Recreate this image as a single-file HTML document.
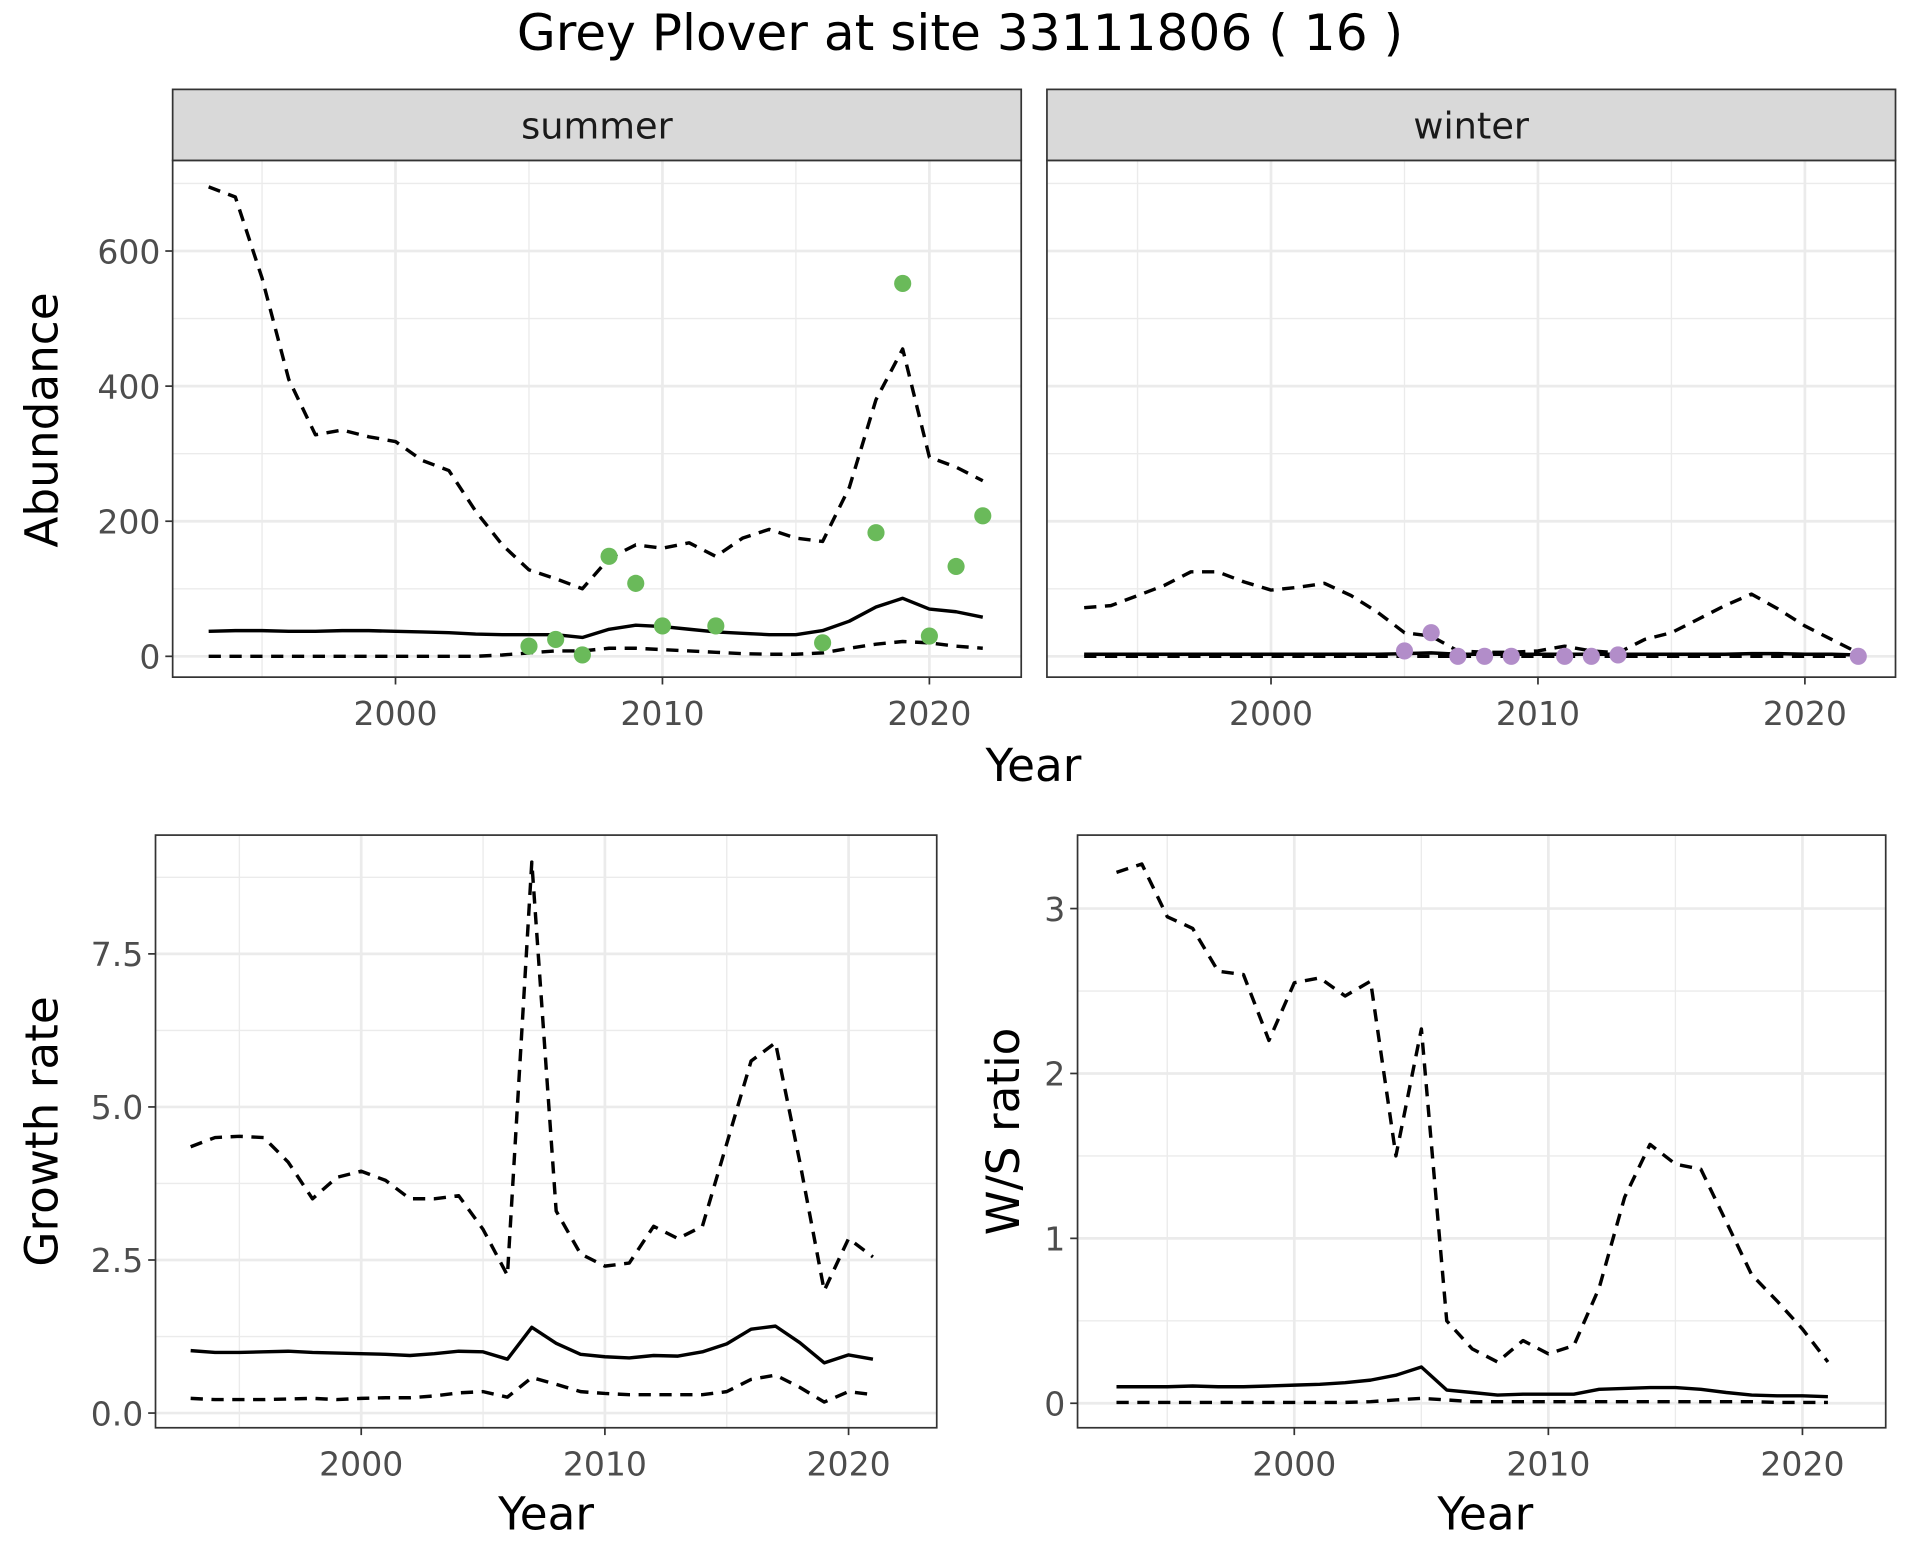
<!DOCTYPE html>
<html><head><meta charset="utf-8"><style>
html,body{margin:0;padding:0;background:#fff;}
svg{display:block;font-family:"DejaVu Sans","Liberation Sans",sans-serif;}
</style></head><body>
<svg id="chart" width="1920" height="1560" viewBox="0 0 1568 1274" preserveAspectRatio="none" xmlns="http://www.w3.org/2000/svg">
<text x="784" y="41" text-anchor="middle" font-size="41" fill="#000">Grey Plover at site 33111806 ( 16 )</text>
</svg>
<script>
const yearsAb = [1993,1994,1995,1996,1997,1998,1999,2000,2001,2002,2003,2004,2005,2006,2007,2008,2009,2010,2011,2012,2013,2014,2015,2016,2017,2018,2019,2020,2021,2022];
const sumUpper = [695,680,560,410,328,335,325,318,290,275,215,165,128,115,100,145,165,160,168,148,175,188,175,170,250,380,455,295,280,260];
const sumMean = [37,38,38,37,37,38,38,37,36,35,33,32,32,32,28,40,46,44,40,36,34,32,32,38,52,73,86,70,66,58];
const sumLower = [0,0,0,0,0,0,0,0,0,0,0,2,5,8,8,12,12,10,8,6,4,3,3,5,12,18,22,20,15,12];
const sumPtYears = [2005,2006,2007,2008,2009,2010,2012,2016,2018,2019,2020,2021,2022];
const sumPtVals = [15,25,2,148,108,45,45,20,183,552,30,133,208];
const winUpper = [72,75,90,105,125,125,110,98,102,108,90,65,35,30,8,6,6,8,15,8,5,25,35,55,75,92,70,45,25,5];
const winMean = [3,3,3,3,3,3,3,3,3,3,3,3,4,5,3,3,3,3,3,3,3,3,3,3,3,4,4,3,3,2];
const winLower = [0,0,0,0,0,0,0,0,0,0,0,0,0,0,0,0,0,0,0,0,0,0,0,0,0,0,0,0,0,0];
const winPtYears = [2005,2006,2007,2008,2009,2011,2012,2013,2022];
const winPtVals = [8,35,0,0,0,0,0,2,0];
const yearsGr = [1993,1994,1995,1996,1997,1998,1999,2000,2001,2002,2003,2004,2005,2006,2007,2008,2009,2010,2011,2012,2013,2014,2015,2016,2017,2018,2019,2020,2021];
const grUpper = [4.35,4.5,4.52,4.5,4.1,3.5,3.85,3.95,3.8,3.5,3.5,3.55,3.0,2.25,9.0,3.3,2.6,2.4,2.45,3.05,2.85,3.05,4.4,5.75,6.05,4.1,2.0,2.85,2.55];
const grMean = [1.02,0.99,0.99,1.0,1.01,0.99,0.98,0.97,0.96,0.94,0.97,1.01,1.0,0.88,1.4,1.14,0.96,0.92,0.9,0.94,0.93,1.0,1.13,1.37,1.42,1.15,0.82,0.95,0.88];
const grLower = [0.24,0.22,0.22,0.22,0.23,0.24,0.22,0.24,0.25,0.25,0.28,0.33,0.35,0.26,0.58,0.47,0.35,0.32,0.3,0.3,0.3,0.3,0.35,0.55,0.62,0.42,0.18,0.35,0.3];
const wsUpper = [3.22,3.27,2.95,2.88,2.62,2.6,2.2,2.55,2.58,2.47,2.56,1.5,2.27,0.5,0.33,0.25,0.38,0.3,0.35,0.7,1.25,1.57,1.45,1.42,1.1,0.78,0.62,0.45,0.25];
const wsMean = [0.1,0.1,0.1,0.105,0.1,0.1,0.105,0.11,0.115,0.125,0.14,0.17,0.22,0.08,0.065,0.05,0.055,0.055,0.055,0.085,0.09,0.095,0.095,0.085,0.065,0.05,0.045,0.045,0.04];
const wsLower = [0.005,0.005,0.005,0.005,0.005,0.005,0.005,0.005,0.005,0.005,0.01,0.02,0.03,0.02,0.01,0.01,0.01,0.01,0.01,0.01,0.01,0.01,0.01,0.01,0.01,0.01,0.005,0.005,0.005];
const xTicks = [2000,2010,2020];
const xMinor = [1995,2005,2015];
const abTicks = [0,200,400,600];
const abMinor = [100,300,500,700];
const grTicks = [0,2.5,5,7.5];
const grTickLabels = ["0.0","2.5","5.0","7.5"];
const grMinor = [1.25,3.75,6.25,8.75];
const wsTicks = [0,1,2,3];
const wsMinor = [0.5,1.5,2.5];

const svg = document.getElementById('chart');
const NS = 'http://www.w3.org/2000/svg';
function mk(tag, attrs, parent){const e=document.createElementNS(NS,tag);for(const k in attrs)e.setAttribute(k,attrs[k]);(parent||svg).appendChild(e);return e;}
function lin(d0,d1,r0,r1){return v=>r0+(v-d0)*(r1-r0)/(d1-d0);}

function panel(o){
  const g = mk('g',{});
  
  
  const X = lin(2000,2020,o.x2000,o.x2020), Y = lin(o.v0,o.v1,o.y0,o.y1);
  mk('rect',{x:o.l,y:o.t,width:o.r-o.l,height:o.b-o.t,fill:'#fff'},g);
  o.yMinor.forEach(v=>{const yy=Y(v); if(yy>o.t&&yy<o.b) mk('line',{x1:o.l,x2:o.r,y1:yy,y2:yy,stroke:'#ebebeb','stroke-width':1.1},g);});
  xMinor.forEach(v=>mk('line',{x1:X(v),x2:X(v),y1:o.t,y2:o.b,stroke:'#ebebeb','stroke-width':1.1},g));
  o.yTicks.forEach(v=>mk('line',{x1:o.l,x2:o.r,y1:Y(v),y2:Y(v),stroke:'#ebebeb','stroke-width':2.2},g));
  xTicks.forEach(v=>mk('line',{x1:X(v),x2:X(v),y1:o.t,y2:o.b,stroke:'#ebebeb','stroke-width':2.2},g));
  o.series.forEach(s=>{
    const pts=s.ys.map((v,i)=>X(s.xs[i]).toFixed(1)+','+Y(v).toFixed(1)).join(' ');
    const p=mk('polyline',{points:pts,fill:'none',stroke:'#000','stroke-width':2.8,'stroke-dasharray':s.dash?'10,7':'none','stroke-linejoin':'round'},g);
    
    
  });
  if(o.pts){o.pts.ys.forEach((v,i)=>{
    const c=mk('circle',{cx:X(o.pts.xs[i]),cy:Y(v),r:7,fill:o.pts.color},g);
    
    
  });}
  mk('rect',{x:o.l,y:o.t,width:o.r-o.l,height:o.b-o.t,fill:'none',stroke:'#333','stroke-width':1.4},g);
  xTicks.forEach(v=>{
    mk('line',{x1:X(v),x2:X(v),y1:o.b,y2:o.b+6,stroke:'#333','stroke-width':1.4},g);
    const t=mk('text',{x:X(v),y:o.b+39,'text-anchor':'middle','font-size':27,fill:'#4d4d4d'},g);t.textContent=v;
    
    
  });
  if(o.showY){o.yTicks.forEach((v,i)=>{
    mk('line',{x1:o.l-6,x2:o.l,y1:Y(v),y2:Y(v),stroke:'#333','stroke-width':1.4},g);
    const t=mk('text',{x:o.l-10,y:Y(v)+10,'text-anchor':'end','font-size':27,fill:'#4d4d4d'},g);t.textContent=o.yLabels?o.yLabels[i]:v;
    
    
  });}
  if(o.strip){
    mk('rect',{x:o.l,y:73,width:o.r-o.l,height:o.t-73,fill:'#d9d9d9',stroke:'#333','stroke-width':1.4},g);
    const t=mk('text',{x:(o.l+o.r)/2,y:113,'text-anchor':'middle','font-size':30,fill:'#1a1a1a'},g);t.textContent=o.strip;
    
    
  }
}
panel({name:'summer-panel',l:141,r:834,t:131,b:553,x2000:323,x2020:759,v0:0,v1:600,y0:536,y1:205,yTicks:abTicks,yMinor:abMinor,showY:true,strip:'summer',
  series:[{xs:yearsAb,ys:sumUpper,dash:true,name:'summer-upper-ci'},{xs:yearsAb,ys:sumMean,dash:false,name:'summer-mean'},{xs:yearsAb,ys:sumLower,dash:true,name:'summer-lower-ci'}],
  pts:{xs:sumPtYears,ys:sumPtVals,color:'#6aba5a'}});
panel({name:'winter-panel',l:855,r:1548,t:131,b:553,x2000:1038,x2020:1474,v0:0,v1:600,y0:536,y1:205,yTicks:abTicks,yMinor:abMinor,showY:false,strip:'winter',
  series:[{xs:yearsAb,ys:winUpper,dash:true,name:'winter-upper-ci'},{xs:yearsAb,ys:winMean,dash:false,name:'winter-mean'},{xs:yearsAb,ys:winLower,dash:true,name:'winter-lower-ci'}],
  pts:{xs:winPtYears,ys:winPtVals,color:'#b28dc9'}});
panel({name:'growth-rate-panel',l:127,r:765,t:682,b:1166,x2000:295,x2020:693,v0:0,v1:7.5,y0:1154,y1:779,yTicks:grTicks,yLabels:grTickLabels,yMinor:grMinor,showY:true,
  series:[{xs:yearsGr,ys:grUpper,dash:true,name:'growth-upper-ci'},{xs:yearsGr,ys:grMean,dash:false,name:'growth-mean'},{xs:yearsGr,ys:grLower,dash:true,name:'growth-lower-ci'}]});
panel({name:'ws-ratio-panel',l:880,r:1540,t:682,b:1166,x2000:1057,x2020:1472,v0:0,v1:3,y0:1146,y1:742,yTicks:wsTicks,yMinor:wsMinor,showY:true,
  series:[{xs:yearsGr,ys:wsUpper,dash:true,name:'ws-upper-ci'},{xs:yearsGr,ys:wsMean,dash:false,name:'ws-mean'},{xs:yearsGr,ys:wsLower,dash:true,name:'ws-lower-ci'}]});

function label(txt,x,y,rot,name){
  const t=mk('text',{x:x,y:y,'text-anchor':'middle','font-size':37,fill:'#000',transform:rot?`rotate(-90 ${x} ${y})`:''});
  t.textContent=txt;
  
  
}
label('Year',844,638,false,'x-axis-title-top');
label('Abundance',47,343,true,'y-axis-title-abundance');
label('Year',446,1249,false,'x-axis-title-growth');
label('Growth rate',47,924,true,'y-axis-title-growth');
label('Year',1213,1249,false,'x-axis-title-ws');
label('W/S ratio',832,924,true,'y-axis-title-ws');
</script>
</body></html>
